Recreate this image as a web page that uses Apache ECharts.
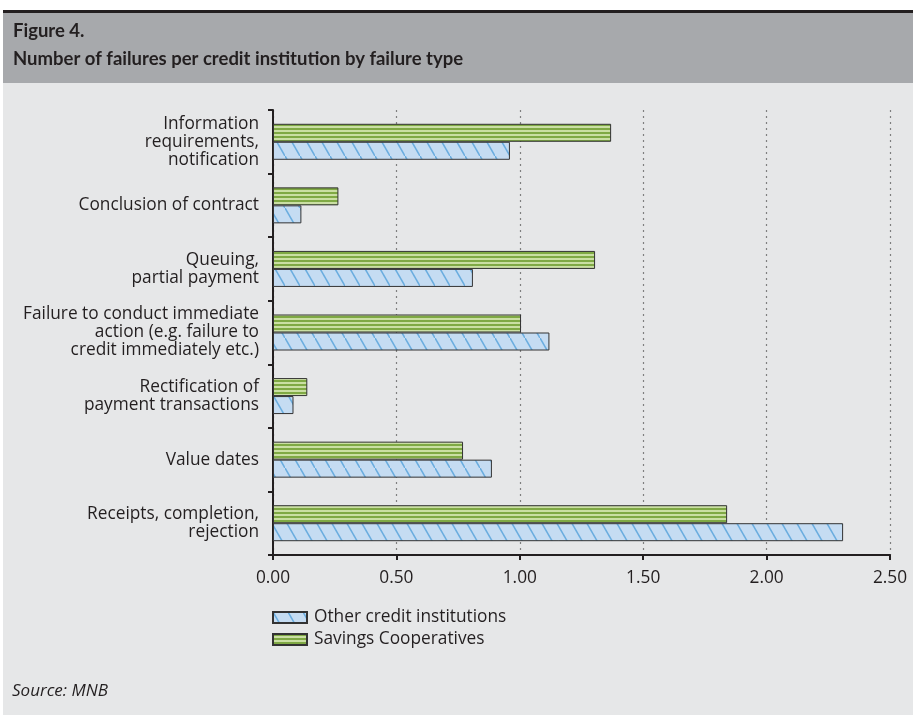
<!DOCTYPE html>
<html>
<head>
<meta charset="utf-8">
<script src="https://cdn.jsdelivr.net/npm/echarts@6/dist/echarts.min.js"></script>
<style>
  html, body { margin: 0; padding: 0; background: #ffffff; }
  #chart { width: 913px; height: 715px; }
</style>
</head>
<body>
<div id="chart"></div>
<script>
// Failure types, top to bottom
const categories = [
  'Information\nrequirements,\nnotification',
  'Conclusion of contract',
  'Queuing,\npartial payment',
  'Failure to conduct immediate\naction (e.g. failure to\ncredit immediately etc.)',
  'Rectification of\npayment transactions',
  'Value dates',
  'Receipts, completion,\nrejection'
];
const otherInstitutions = [0.96, 0.115, 0.81, 1.12, 0.083, 0.887, 2.31];
const savingsCooperatives = [1.37, 0.265, 1.305, 1.005, 0.139, 0.77, 1.84];
const xTicks = [0, 0.5, 1.0, 1.5, 2.0, 2.5];

// Diagonal hatch tile for the blue series
function hatchTile() {
  const c = document.createElement('canvas');
  c.width = 15; c.height = 26;
  const g = c.getContext('2d');
  g.fillStyle = '#c5dcf2';
  g.fillRect(0, 0, 15, 26);
  g.strokeStyle = '#6aaddf';
  g.lineWidth = 1.6;
  g.beginPath();
  g.moveTo(-1.5, -2.6); g.lineTo(16.5, 28.6);
  g.stroke();
  return c;
}
// Horizontal stripe tile for the green series
function stripeTile() {
  const c = document.createElement('canvas');
  c.width = 4; c.height = 4;
  const g = c.getContext('2d');
  g.fillStyle = '#7fa944';
  g.fillRect(0, 0, 4, 2);
  g.fillStyle = '#cadfa3';
  g.fillRect(0, 2, 4, 2);
  return c;
}

const FONT = '"Open Sans", Lato, sans-serif';
const TITLE_FONT = 'Lato, "Open Sans", sans-serif';
const TEXT = '#231f20';
const FS = 17.3;

const chart = echarts.init(document.getElementById('chart'), null, { renderer: 'canvas' });
chart.setOption({
  backgroundColor: '#ffffff',
  animation: false,
  graphic: [
    { type: 'rect', z: -10, shape: { x: 3, y: 83, width: 910, height: 632 }, style: { fill: '#e6e7e8' } },
    { type: 'rect', z: -10, shape: { x: 3, y: 13, width: 910, height: 70 }, style: { fill: '#a7a9ac' } },
    { type: 'rect', z: -10, shape: { x: 3, y: 10, width: 910, height: 3 }, style: { fill: '#231f20' } },
    { type: 'text', left: 12, top: 683, style: { text: 'Source: MNB', font: 'italic 17px ' + FONT, fill: TEXT } }
  ],
  title: {
    text: 'Figure 4.\nNumber of failures per credit institution by failure type',
    left: 8, top: 12,
    textStyle: { fontFamily: TITLE_FONT, fontWeight: 'bold', fontSize: 18.5, lineHeight: 28, color: TEXT }
  },
  legend: {
    orient: 'vertical',
    left: 272, top: 609, padding: 0,
    icon: 'rect',
    itemWidth: 34, itemHeight: 11, itemGap: 5,
    textStyle: { fontFamily: FONT, fontSize: FS, lineHeight: 16, color: TEXT, padding: [0, 0, 0, 2] },
    data: ['Other credit institutions', 'Savings Cooperatives']
  },
  grid: { left: 273, right: 23, top: 110, bottom: 160, containLabel: false },
  xAxis: {
    type: 'value',
    min: xTicks[0], max: xTicks[xTicks.length - 1], interval: 0.5,
    axisLine: { show: true, lineStyle: { color: '#231f20', width: 2 } },
    axisTick: { show: true, length: 5, lineStyle: { color: '#231f20', width: 2 } },
    axisLabel: { margin: 15, fontFamily: FONT, fontSize: FS, color: TEXT, formatter: v => v.toFixed(2) },
    splitLine: { show: true, lineStyle: { color: '#7f7f7f', width: 1.2, type: [2, 4] } }
  },
  yAxis: {
    type: 'category',
    inverse: true,
    data: categories,
    axisLine: { show: true, lineStyle: { color: '#231f20', width: 2 } },
    axisTick: { show: true, length: 5, lineStyle: { color: '#231f20', width: 2 } },
    axisLabel: { margin: 14, fontFamily: FONT, fontSize: FS, lineHeight: 18, color: TEXT, align: 'right' },
    splitLine: { show: false }
  },
  series: [
    {
      name: 'Savings Cooperatives',
      type: 'bar',
      barWidth: 18, barGap: '0%',
      data: savingsCooperatives,
      itemStyle: { color: { image: stripeTile(), repeat: 'repeat' }, borderColor: '#333333', borderWidth: 1 }
    },
    {
      name: 'Other credit institutions',
      type: 'bar',
      barWidth: 18, barGap: '0%',
      data: otherInstitutions,
      itemStyle: { color: { image: hatchTile(), repeat: 'repeat' }, borderColor: '#333333', borderWidth: 1 }
    }
  ]
});
</script>
</body>
</html>
